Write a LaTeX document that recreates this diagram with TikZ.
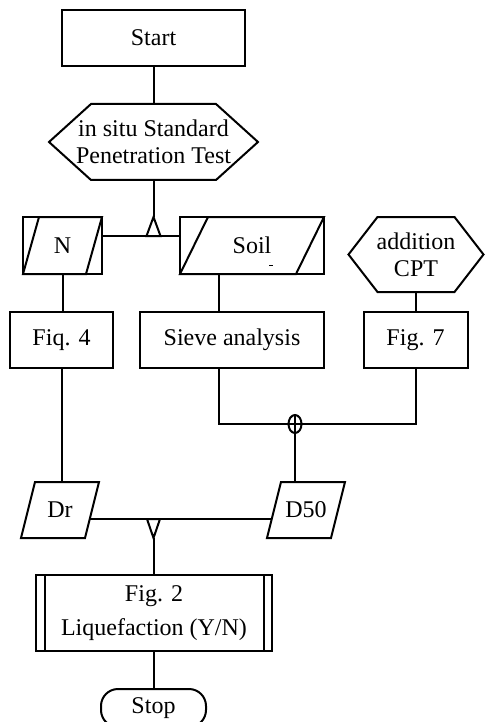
\documentclass[tikz,border=0pt]{standalone}
\usepackage{fontspec}
\setmainfont{Liberation Serif}
\newcommand{\hexout}[2]{\draw (#1.west) -- ([xshift=#2]#1.north west) -- ([xshift=-#2]#1.north east) -- (#1.east) -- ([xshift=-#2]#1.south east) -- ([xshift=#2]#1.south west) -- cycle;}
\newcommand{\paraout}[2]{\draw (#1.south west) -- ([xshift=#2]#1.north west) -- (#1.north east) -- ([xshift=-#2]#1.south east) -- cycle;}
\tikzset{
  procbox/.style={draw,rectangle},
  plain/.style={rectangle},
  stopbox/.style={draw,rectangle,rounded corners=17pt},
  tri/.style={line join=miter}
}
\begin{document}
\begin{tikzpicture}[x=1pt,y=-1pt,line width=2pt,line join=miter,
  every node/.style={inner sep=0pt,outer sep=0pt,font=\fontsize{24}{27}\selectfont,align=center}]
\useasboundingbox (0,0) rectangle (485,722);

\node[procbox,minimum width=183pt,minimum height=56pt] (start) at (153.5,38) {Start};
\node[plain,minimum width=209pt,minimum height=76pt] (spt) at (153.5,142) {in situ Standard\\Penetration Test};
\hexout{spt}{42pt}
\node[procbox,minimum width=79pt,minimum height=57pt] (n) at (62.5,245.5) {N};
\paraout{n}{16pt}
\node[procbox,minimum width=144pt,minimum height=57pt] (soil) at (252,245.5) {Soil};
\paraout{soil}{28pt}
\node[plain,minimum width=135pt,minimum height=75pt] (cpt) at (416,254.5) {addition\\CPT};
\hexout{cpt}{29pt}
\node[procbox,minimum width=103pt,minimum height=56pt] (fig4) at (61.5,340) {Fiq. 4};
\node[procbox,minimum width=184pt,minimum height=56pt] (sieve) at (232,340) {Sieve analysis};
\node[procbox,minimum width=104pt,minimum height=56pt] (fig7) at (415.5,340) {Fig. 7};
\node[plain,minimum width=78pt,minimum height=56pt] (dr) at (60,510) {Dr};
\paraout{dr}{14pt}
\node[plain,minimum width=78pt,minimum height=56pt] (d50) at (306,510) {D50};
\paraout{d50}{14pt}
\node[procbox,minimum width=236pt,minimum height=76pt,font=\fontsize{24}{34}\selectfont] (fig2) at (154,613) {Fig. 2\\Liquefaction (Y/N)};
\draw ([xshift=8.5pt]fig2.north west) -- ([xshift=8.5pt]fig2.south west);
\draw ([xshift=-8.5pt]fig2.north east) -- ([xshift=-8.5pt]fig2.south east);
\node[stopbox,minimum width=105pt,minimum height=38pt] (stop) at (153.5,708) {Stop};

% small mark in Soil box
\draw[line width=1pt] ([shift={(17,19.5)}]soil.center) -- ++(4,0);

% connectors
\coordinate (j1a) at (153.5,217);
\coordinate (j1) at (153.5,236);
\draw (start) -- (spt);
\draw (spt.south) -- (j1a);
\draw (n.east |- j1) -- (soil.west |- j1);
\draw[tri] (j1a) -- ([xshift=-7pt]j1) -- ([xshift=7pt]j1) -- cycle;
\draw (n.south) -- (n.south |- fig4.north);
\coordinate (sx) at (219,0);
\draw (soil.south -| sx) -- (sieve.north -| sx);
\draw (cpt.south) -- (cpt.south |- fig7.north);
\coordinate (j2) at (295,424);
\draw (sieve.south -| sx) |- (cpt.south |- j2) -- (cpt.south |- fig7.south);
\draw ([shift={(0,-9)}]j2) -- (d50.north -| j2);
\draw (j2) ellipse [x radius=6.5pt, y radius=9pt];
\draw (fig4.south) -- (fig4.south |- dr.north);
\draw ([shift={(-9.25,9)}]dr.east) -- ([shift={(4.75,9)}]d50.west);
\coordinate (j3) at (153.5,519);
\coordinate (j3a) at (153.5,538);
\draw[tri] (j3a) -- ([xshift=-6.5pt]j3) -- ([xshift=6.5pt]j3) -- cycle;
\draw (j3a) -- (fig2.north -| j3a);
\draw (fig2.south) -- (fig2.south |- stop.north);
\end{tikzpicture}
\end{document}
